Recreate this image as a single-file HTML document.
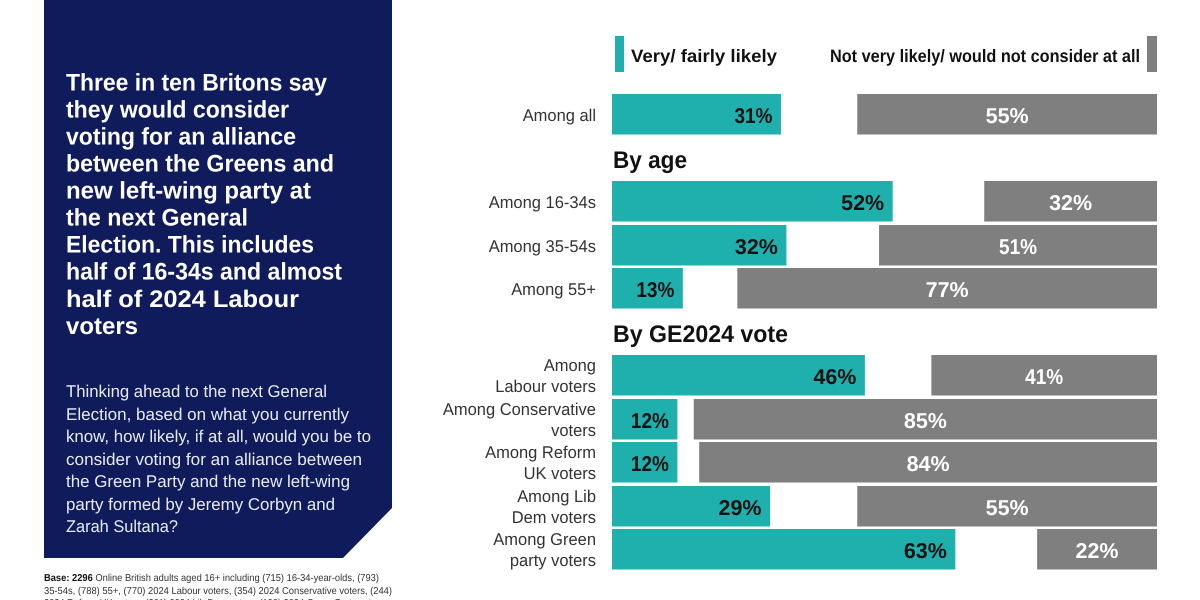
<!DOCTYPE html>
<html lang="en">
<head>
<meta charset="utf-8">
<title>Three in ten Britons would consider a Green and left-wing alliance</title>
<style>
html,body{margin:0;padding:0;background:#fff}
svg{display:block;font-family:"Liberation Sans",sans-serif;text-rendering:geometricPrecision}
</style>
</head>
<body>
<svg id="chart" width="1200" height="600" viewBox="0 0 1200 600" xmlns="http://www.w3.org/2000/svg">
  <rect width="1200" height="600" fill="#fff"/>
  <polygon points="44,0 392,0 392,508 343,558 44,558" fill="#0f1b5b"/>
  <g fill="#fff" font-size="24" font-weight="700">
    <text x="66" y="90.5" textLength="261" lengthAdjust="spacingAndGlyphs">Three in ten Britons say</text>
    <text x="66" y="117.5" textLength="223" lengthAdjust="spacingAndGlyphs">they would consider</text>
    <text x="66" y="144.5" textLength="230" lengthAdjust="spacingAndGlyphs">voting for an alliance</text>
    <text x="66" y="171.5" textLength="268" lengthAdjust="spacingAndGlyphs">between the Greens and</text>
    <text x="66" y="198.5" textLength="245" lengthAdjust="spacingAndGlyphs">new left-wing party at</text>
    <text x="66" y="225.5" textLength="182" lengthAdjust="spacingAndGlyphs">the next General</text>
    <text x="66" y="252.5" textLength="248" lengthAdjust="spacingAndGlyphs">Election. This includes</text>
    <text x="66" y="279.5" textLength="276" lengthAdjust="spacingAndGlyphs">half of 16-34s and almost</text>
    <text x="66" y="307" textLength="233" lengthAdjust="spacingAndGlyphs">half of 2024 Labour</text>
    <text x="66" y="334" textLength="72" lengthAdjust="spacingAndGlyphs">voters</text>
  </g>
  <g fill="#e8eaf2" font-size="17">
    <text x="66" y="397" textLength="261" lengthAdjust="spacingAndGlyphs">Thinking ahead to the next General</text>
    <text x="66" y="420" textLength="283" lengthAdjust="spacingAndGlyphs">Election, based on what you currently</text>
    <text x="66" y="442" textLength="305" lengthAdjust="spacingAndGlyphs">know, how likely, if at all, would you be to</text>
    <text x="66" y="465" textLength="296" lengthAdjust="spacingAndGlyphs">consider voting for an alliance between</text>
    <text x="66" y="487" textLength="284" lengthAdjust="spacingAndGlyphs">the Green Party and the new left-wing</text>
    <text x="66" y="510" textLength="269" lengthAdjust="spacingAndGlyphs">party formed by Jeremy Corbyn and</text>
    <text x="66" y="532" textLength="112" lengthAdjust="spacingAndGlyphs">Zarah Sultana?</text>
  </g>
  <g fill="#333" font-size="10">
    <text x="44" y="581" textLength="335" lengthAdjust="spacingAndGlyphs"><tspan font-weight="700" fill="#111">Base: 2296</tspan> Online British adults aged 16+ including (715) 16-34-year-olds, (793)</text>
    <text x="44" y="594" textLength="348" lengthAdjust="spacingAndGlyphs">35-54s, (788) 55+, (770) 2024 Labour voters, (354) 2024 Conservative voters, (244)</text>
    <text x="44" y="606" textLength="340" lengthAdjust="spacingAndGlyphs">2024 Reform UK voters, (261) 2024 Lib Dem voters, (190) 2024 Green Party voters</text>
  </g>
  <g>
    <rect x="615" y="36" width="9" height="36" fill="#1fb0ae"/>
    <text x="631" y="62" font-size="18" font-weight="700" fill="#111" textLength="146" lengthAdjust="spacingAndGlyphs">Very/ fairly likely</text>
    <text x="830" y="62" font-size="18" font-weight="700" fill="#111" textLength="310" lengthAdjust="spacingAndGlyphs">Not very likely/ would not consider at all</text>
    <rect x="1147" y="36" width="10" height="36" fill="#7f7f7f"/>
  </g>
  <text x="613" y="168" font-size="24" font-weight="700" fill="#111" textLength="74" lengthAdjust="spacingAndGlyphs">By age</text>
  <text x="613" y="342" font-size="24" font-weight="700" fill="#111" textLength="175" lengthAdjust="spacingAndGlyphs">By GE2024 vote</text>
  <g id="rows"></g>
</svg>
<script>
const categories = [
  ["Among all"],
  ["Among 16-34s"],
  ["Among 35-54s"],
  ["Among 55+"],
  ["Among", "Labour voters"],
  ["Among Conservative", "voters"],
  ["Among Reform", "UK voters"],
  ["Among Lib", "Dem voters"],
  ["Among Green", "party voters"]
];
const likelyValues = [31, 51.5, 32, 13, 46.4, 12, 12, 29, 63];
const unlikelyValues = [55, 31.7, 51, 77, 41.4, 85, 84, 55, 22];

const NS = "http://www.w3.org/2000/svg";
const rowsGroup = document.getElementById("rows");
const rowTops = [94, 181, 225, 268, 355, 399, 442, 486, 529];
const pxPerPoint = 5.45;
const leftBase = 612;
const rightBase = 1157;
const barHeight = 40.5;
const TEAL = "#1fb0ae";
const GREY = "#7f7f7f";

function xLikely(v) { return leftBase + v * pxPerPoint; }
function xUnlikely(v) { return rightBase - v * pxPerPoint; }

function makeText(x, y, str, size, weight, fill, anchor) {
  const t = document.createElementNS(NS, "text");
  t.setAttribute("x", x);
  t.setAttribute("y", y);
  t.setAttribute("font-size", size);
  t.setAttribute("font-weight", weight);
  t.setAttribute("fill", fill);
  t.setAttribute("text-anchor", anchor);
  t.textContent = str;
  return t;
}

function makeBar(x, y, w, fill) {
  const r = document.createElementNS(NS, "rect");
  r.setAttribute("x", x);
  r.setAttribute("y", y);
  r.setAttribute("width", w);
  r.setAttribute("height", barHeight);
  r.setAttribute("fill", fill);
  return r;
}

// The reference face sets "1" much narrower than the other digits.
function labelWidth(str) {
  return str.indexOf("1") >= 0 ? 38 : 43;
}

categories.forEach(function (lines, i) {
  const top = rowTops[i];
  const mid = top + 20;

  lines.forEach(function (line, j) {
    const by = lines.length === 1 ? mid + 7 : mid + (j === 0 ? -4 : 17);
    const label = makeText(596, by, line, 17, 400, "#333", "end");
    
    
    rowsGroup.appendChild(label);
    label.setAttribute("textLength", (label.getComputedTextLength() * 0.97).toFixed(1));
    label.setAttribute("lengthAdjust", "spacingAndGlyphs");
  });

  const lv = likelyValues[i];
  const likelyBar = makeBar(leftBase, top, xLikely(lv) - leftBase, TEAL);
  
  
  rowsGroup.appendChild(likelyBar);

  const likelyStr = Math.round(lv) + "%";
  const likelyLabel = makeText(xLikely(lv) - 8.5, top + 29, likelyStr, 21.5, 700, "#111", "end");
  
  
  likelyLabel.setAttribute("textLength", labelWidth(likelyStr));
  likelyLabel.setAttribute("lengthAdjust", "spacingAndGlyphs");
  rowsGroup.appendChild(likelyLabel);

  const uv = unlikelyValues[i];
  const unlikelyBar = makeBar(xUnlikely(uv), top, rightBase - xUnlikely(uv), GREY);
  
  
  rowsGroup.appendChild(unlikelyBar);

  const unlikelyStr = Math.round(uv) + "%";
  const unlikelyLabel = makeText((xUnlikely(uv) + rightBase) / 2, top + 29, unlikelyStr, 21.5, 700, "#fff", "middle");
  
  
  unlikelyLabel.setAttribute("textLength", labelWidth(unlikelyStr));
  unlikelyLabel.setAttribute("lengthAdjust", "spacingAndGlyphs");
  rowsGroup.appendChild(unlikelyLabel);
});
</script>
</body>
</html>
